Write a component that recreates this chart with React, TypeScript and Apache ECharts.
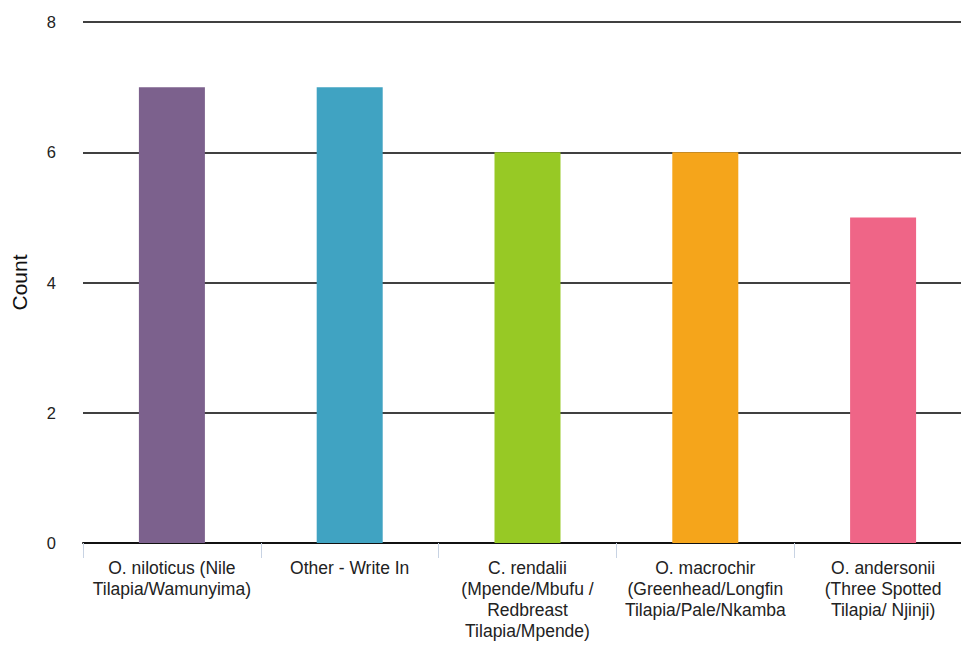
import React, { useEffect, useRef } from "react";
import * as echarts from "echarts";

const categories = [
  "O. niloticus (Nile\nTilapia/Wamunyima)",
  "Other - Write In",
  "C. rendalii\n(Mpende/Mbufu /\nRedbreast\nTilapia/Mpende)",
  "O. macrochir\n(Greenhead/Longfin\nTilapia/Pale/Nkamba",
  "O. andersonii\n(Three Spotted\nTilapia/ Njinji)",
];
const counts = [7, 7, 6, 6, 5];
const barColors = ["#7C618D", "#40A3C2", "#97C925", "#F5A51B", "#EF6587"];
const yTicks = { min: 0, max: 8, interval: 2 };

const FONT = "Liberation Sans, Arial, sans-serif";

export default function App() {
  const ref = useRef<HTMLDivElement>(null);
  useEffect(() => {
    if (!ref.current) return;
    const chart = echarts.init(ref.current, undefined, { renderer: "svg" });
    chart.setOption({
      animation: false,
      textStyle: { fontFamily: FONT },
      grid: { left: 83, right: -11, top: 22, bottom: 105, containLabel: false, outerBoundsMode: "none" },
      xAxis: {
        type: "category",
        data: categories,
        axisLine: { show: true, lineStyle: { color: "#111", width: 2 } },
        axisTick: { show: true, length: 15, lineStyle: { color: "#C8D3E3", width: 1 } },
        axisLabel: {
          interval: 0,
          color: "#222",
          fontSize: 17.5,
          lineHeight: 21,
          margin: 14,
          fontFamily: FONT,
        },
      },
      yAxis: {
        type: "value",
        min: yTicks.min,
        max: yTicks.max,
        interval: yTicks.interval,
        name: "Count",
        nameLocation: "middle",
        nameGap: 53,
        nameTextStyle: { color: "#111", fontSize: 21, fontFamily: FONT },
        axisLine: { show: false },
        axisTick: { show: false },
        axisLabel: { color: "#222", fontSize: 16.5, margin: 27, fontFamily: FONT },
        splitLine: { show: true, lineStyle: { color: "#000", width: 1.5 } },
      },
      series: [
        {
          type: "bar",
          data: counts.map((v, i) => ({ value: v, itemStyle: { color: barColors[i] } })),
          barWidth: 66,
        },
      ],
    });
    return () => chart.dispose();
  }, []);
  return <div ref={ref} style={{ width: 961, height: 648, position: "absolute", left: 0, top: 0 }} />;
}
